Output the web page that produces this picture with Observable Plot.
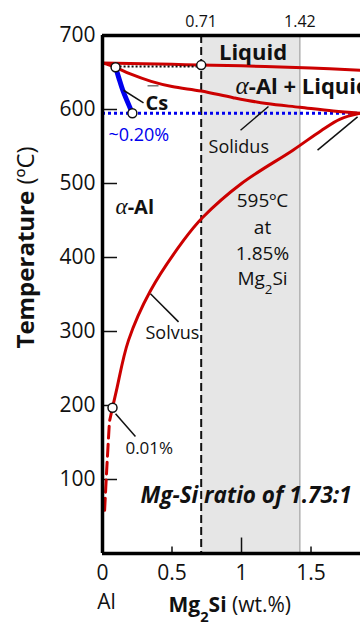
<!DOCTYPE html>
<html><head><meta charset="utf-8">
<script src="https://cdn.jsdelivr.net/npm/d3@7"></script>
<script src="https://cdn.jsdelivr.net/npm/@observablehq/plot@0.6"></script>
<style>body{margin:0;background:#fff} svg{display:block}</style>
</head><body><div id="chart"></div>
<script>
// ---- data ----
const xTicks = [0, 0.5, 1, 1.5];
const xTickLabels = ["0", "0.5", "1", "1.5"];
const xMinorTicks = [0.5, 1.5];
const xMajorTicks = [1];
const yTicks = [100, 200, 300, 400, 500, 600, 700];
const topTicks = [0.71, 1.42];
const bandLow = 0.71, bandHigh = 1.42;
const eutecticT = 595;

const liquidusX = [0, 0.5, 1.0, 1.5, 1.856];
const liquidusT = [663, 661, 659, 656, 653];

const solidusX = [0, 0.094, 0.2, 0.35, 0.5, 0.71, 0.94, 1.18, 1.42, 1.66, 1.856];
const solidusT = [663, 657, 648, 638, 631, 625, 616, 608, 603, 598, 595];

const solvusX = [0.052, 0.072, 0.10, 0.187, 0.345, 0.583, 0.72, 1.0, 1.37, 1.57, 1.71, 1.856];
const solvusT = [180, 197, 220, 288, 355, 423, 454, 500, 545, 571, 587, 595];

const solvusExtX = [0.048, 0.03, 0.014];
const solvusExtT = [172, 112, 54];

const csX = [0.094, 0.117, 0.146, 0.215];
const csT = [657, 643, 626, 595];

const pointX = [0.094, 0.215, 0.71, 0.072];
const pointT = [657, 595, 660, 197];

const zip = (xs, ts) => xs.map((x, i) => ({x, t: ts[i]}));

const leaders = [
  {x1: 0.151, t1: 626, x2: 0.295, t2: 609},   // Cs
  {x1: 0.993, t1: 572, x2: 1.194, t2: 604},   // Solidus
  {x1: 1.547, t1: 545, x2: 1.835, t2: 590},   // 595
  {x1: 0.345, t1: 351, x2: 0.547, t2: 313},   // Solvus
  {x1: 0.094, t1: 189, x2: 0.237, t2: 158}    // 0.01%
];

const RED = "#cc0000", BLUE = "#0000ee", INK = "#111";
const FONT = "'Open Sans', sans-serif";
const W = 360, H = 623, ML = 102, MT = 35, MB = 70;
const plotW = W - ML;

const txt = (s, x, t, o) => Plot.text([s], {x: () => x, y: () => t, text: d => d, fill: INK, ...o});

const chart = Plot.plot({
  width: W, height: H,
  marginLeft: ML, marginRight: 0, marginTop: MT, marginBottom: MB,
  x: {domain: [0, 1.856]},
  y: {domain: [0, 700]},
  style: {fontFamily: FONT, color: INK, background: "#fff", overflow: "visible"},
  marks: [
    Plot.rect([0], {x1: () => bandLow, x2: () => bandHigh, y1: () => 0, y2: () => 700, fill: "#e6e6e6"}),
    Plot.ruleX([bandHigh], {stroke: "#8c8c8c", strokeWidth: 1}),

    // inward ticks
    Plot.ruleY(yTicks.filter(d => d < 700), {x1: () => 0, x2: () => 1.856, insetRight: plotW - 15, stroke: INK, strokeWidth: 1.5}),
    Plot.link(xMinorTicks, {x1: d => d, x2: d => d, y1: () => 0, y2: () => 9.5, stroke: INK, strokeWidth: 1.5}),
    Plot.link(xMajorTicks, {x1: d => d, x2: d => d, y1: () => 0, y2: () => 21.6, stroke: INK, strokeWidth: 1.5}),

    txt("Mg-Si ratio of 1.73:1", 0.273, 78, {fontSize: 22.5, fontWeight: "bold", fontStyle: "italic", textAnchor: "start"}),
    Plot.ruleX([bandLow], {stroke: INK, strokeWidth: 2, strokeDasharray: "8,4"}),
    Plot.ruleY([eutecticT], {stroke: BLUE, strokeWidth: 3, strokeDasharray: "3,3"}),

    // phase boundaries
    Plot.line(zip(liquidusX, liquidusT), {x: "x", y: "t", stroke: RED, strokeWidth: 3, curve: "catmull-rom"}),
    Plot.line(zip(solidusX, solidusT), {x: "x", y: "t", stroke: RED, strokeWidth: 3, curve: "catmull-rom"}),
    Plot.line(zip(solvusX, solvusT), {x: "x", y: "t", stroke: RED, strokeWidth: 3, curve: "catmull-rom"}),
    Plot.line(zip(solvusExtX, solvusExtT), {x: "x", y: "t", stroke: RED, strokeWidth: 3, strokeDasharray: "12,6", curve: "catmull-rom"}),
    Plot.line(zip(csX, csT), {x: "x", y: "t", stroke: BLUE, strokeWidth: 5, curve: "catmull-rom"}),
    Plot.link([0], {x1: () => pointX[0], y1: () => 658, x2: () => pointX[2], y2: () => 658, stroke: INK, strokeWidth: 2, strokeDasharray: "2,2"}),

    // leaders
    Plot.link(leaders, {x1: "x1", y1: "t1", x2: "x2", y2: "t2", stroke: INK, strokeWidth: 1.5}),
    Plot.link([0], {x1: () => 0.324, y1: () => 632, x2: () => 0.403, y2: () => 632, stroke: "#555", strokeWidth: 1.2}),

    // frame
    Plot.ruleX([0], {stroke: "#000", strokeWidth: 3.5}),
    Plot.ruleY([0, 700], {stroke: "#000", strokeWidth: 3.5}),

    Plot.dot(zip(pointX, pointT), {x: "x", y: "t", r: 4.5, fill: "white", stroke: INK, strokeWidth: 1.5}),

    // axes
    Plot.axisY(yTicks, {tickSize: 0, tickPadding: 7, fontSize: 21, label: null, fill: INK}),
    Plot.axisX(xTicks, {tickSize: 0, tickPadding: 12, fontSize: 21, label: null, fill: INK, tickFormat: (d, i) => xTickLabels[i]}),
    Plot.axisX(topTicks, {anchor: "top", tickSize: 0, tickPadding: 9, fontSize: 16, label: null, fill: INK, tickFormat: d => d.toFixed(2)}),

    // labels
    txt("Liquid", 1.083, 676, {fontSize: 22, fontWeight: "bold"}),
    txt("α-Al + Liquid", 0.957, 630, {fontSize: 22, fontWeight: "bold", textAnchor: "start"}),
    txt("α-Al", 0.094, 467, {fontSize: 20, fontWeight: "bold", textAnchor: "start"}),
    txt("Cs", 0.309, 608, {fontSize: 20, fontWeight: "bold", textAnchor: "start"}),
    txt("~0.20%", 0.043, 565, {fontSize: 18, fill: BLUE, textAnchor: "start"}),
    txt("Solidus", 0.763, 549, {fontSize: 18, textAnchor: "start"}),
    txt("595ºC", 1.151, 476, {fontSize: 19}),
    txt("at", 1.151, 440, {fontSize: 19}),
    txt("1.85%", 1.151, 405, {fontSize: 19}),
    txt("Mg2Si", 1.151, 371, {fontSize: 19}),
    txt("Solvus", 0.309, 297, {fontSize: 18, textAnchor: "start"}),
    txt("0.01%", 0.165, 142, {fontSize: 17, textAnchor: "start"}),
    txt("Al", 0.029, -66, {fontSize: 21}),
    txt("Mg2Si (wt.%)", 0.475, -70, {fontSize: 21, textAnchor: "start"}),
    txt("Temperature (ºC)", -0.547, 277, {fontSize: 24, textAnchor: "start", rotate: -90})
  ]
});

// rich text: mixed weights / italic alpha / subscripts
const NS = "http://www.w3.org/2000/svg";
function span(parent, s, attrs) {
  const t = document.createElementNS(NS, "tspan");
  for (const k in attrs) t.setAttribute(k, attrs[k]);
  t.textContent = s;
  parent.appendChild(t);
}
const alpha = {"font-family": "'Liberation Serif', serif", "font-style": "italic", "font-weight": "normal", "font-size": "115%"};
const sub = {"baseline-shift": "sub", "font-size": "70%"};
const rich = {
  "α-Al + Liquid": el => { span(el, "α", alpha); span(el, "-Al + Liquid", {}); },
  "α-Al": el => { span(el, "α", alpha); span(el, "-Al", {}); },
  "Mg2Si": el => { span(el, "Mg", {}); span(el, "2", sub); span(el, "Si", {}); },
  "Mg2Si (wt.%)": el => { span(el, "Mg", {"font-weight": "bold"}); span(el, "2", {...sub, "font-weight": "bold"}); span(el, "Si", {"font-weight": "bold"}); span(el, " (wt.%)", {}); },
  "Temperature (ºC)": el => { span(el, "Temperature", {"font-weight": "bold"}); span(el, " (ºC)", {}); }
};
chart.querySelectorAll("text").forEach(el => {
  const f = rich[el.textContent];
  if (f && el.children.length === 0) { el.textContent = ""; f(el); }
});
document.getElementById("chart").appendChild(chart);
</script>
</body></html>
